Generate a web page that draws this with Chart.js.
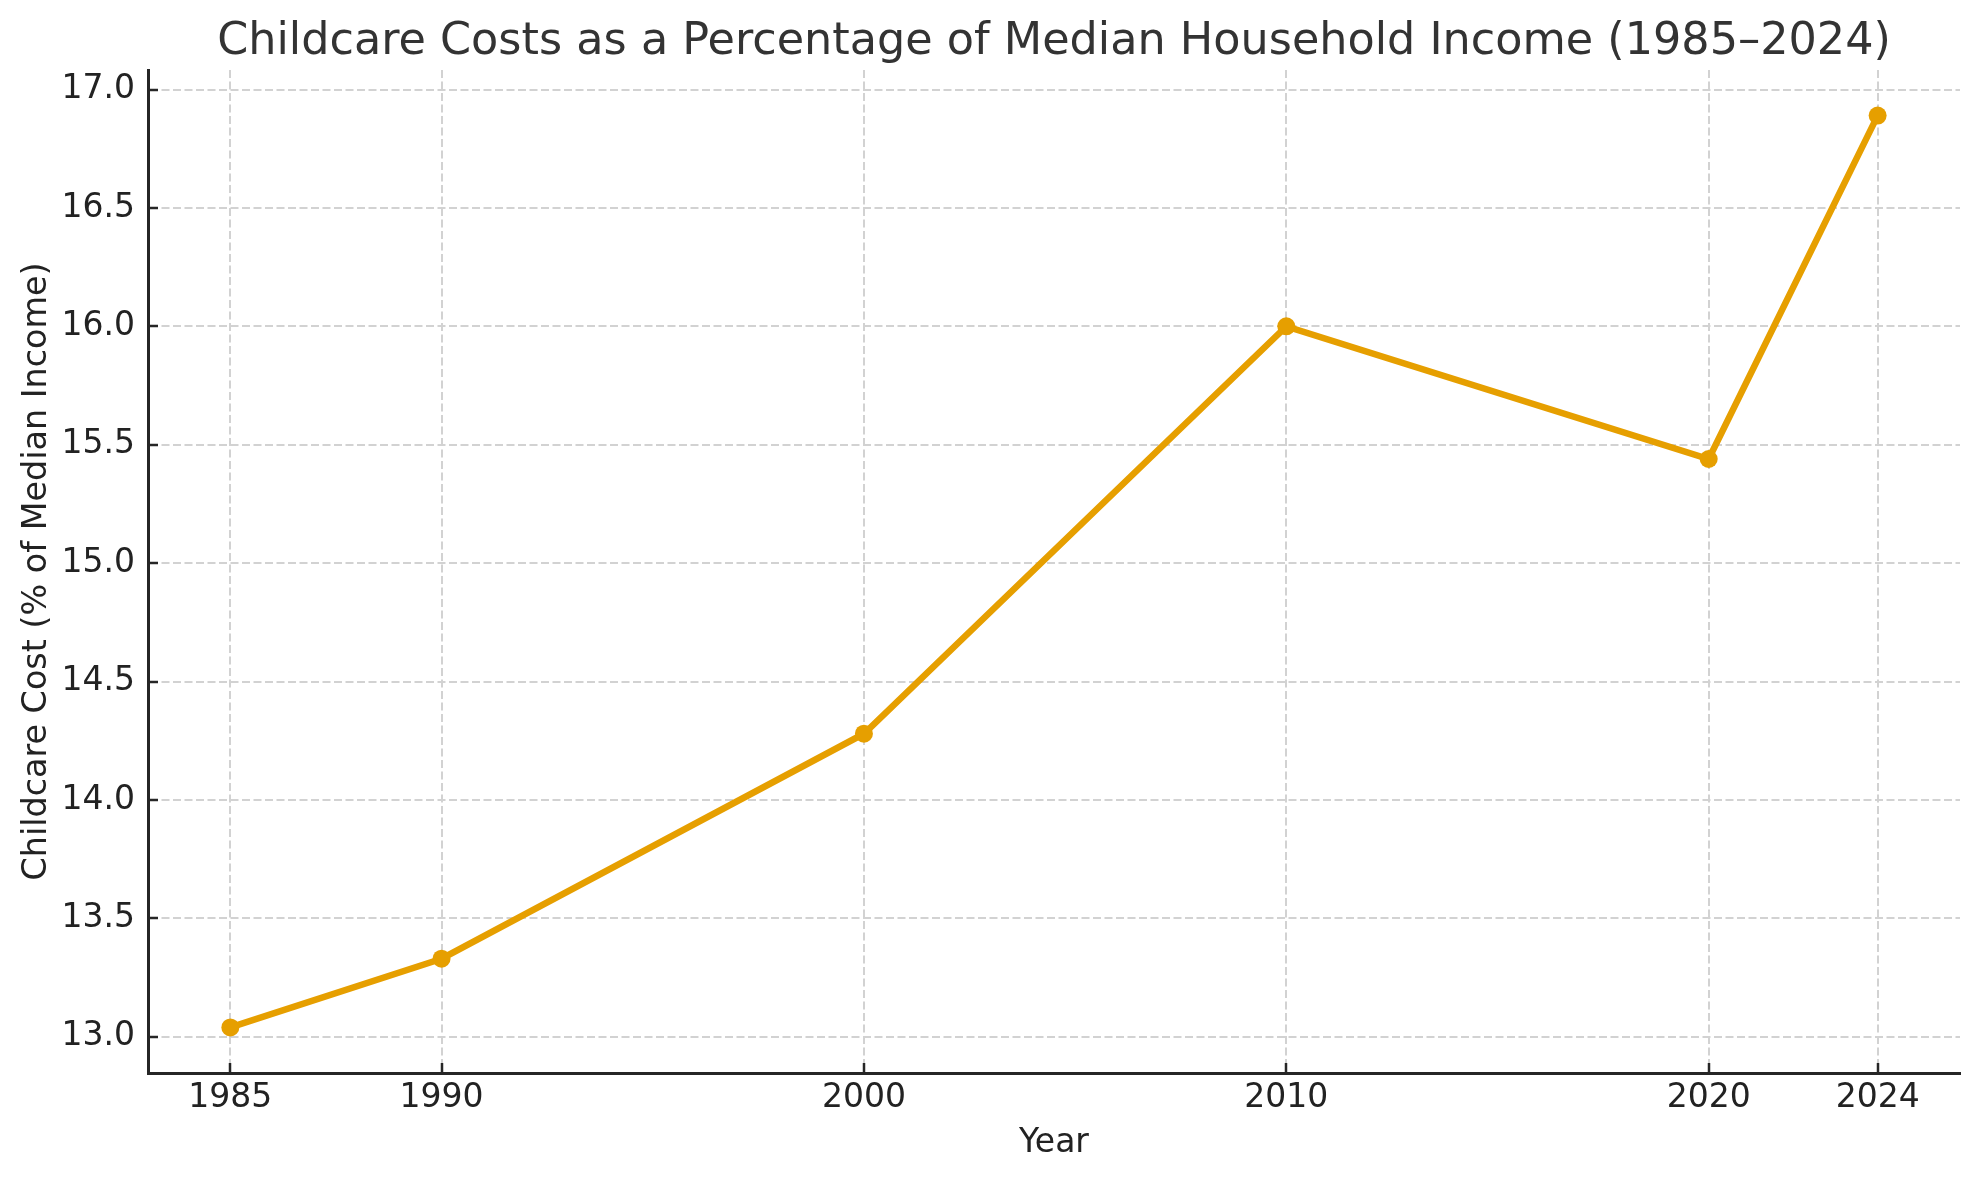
<!DOCTYPE html>
<html>
<head>
<meta charset="utf-8">
<script src="https://cdn.jsdelivr.net/npm/chart.js@4.4.1/dist/chart.umd.min.js"></script>
<style>
  html, body { margin: 0; padding: 0; background: #ffffff; }
  #grafico { display: block; }
</style>
</head>
<body>
<canvas id="grafico" width="1979" height="1180"></canvas>
<script>
// dados
const anos = [1985, 1990, 2000, 2010, 2020, 2024];
const custoPercentual = [13.04, 13.33, 14.28, 16.0, 15.44, 16.89];
const ticksY = [13.0, 13.5, 14.0, 14.5, 15.0, 15.5, 16.0, 16.5, 17.0];

const titulo = "Childcare Costs as a Percentage of Median Household Income (1985–2024)";
const tituloX = "Year";
const tituloY = "Childcare Cost (% of Median Income)";

const laranja = "#E69F00";
const corGrade = "#d2d2d2";
const corEixo = "#262626";
const fonte = "'DejaVu Sans', 'Liberation Sans', sans-serif";

// margens de 5% como no matplotlib
const margemX = (anos[anos.length - 1] - anos[0]) * 0.05;
const minY = Math.min(...custoPercentual);
const maxY = Math.max(...custoPercentual);
const margemY = (maxY - minY) * 0.05;

const pontos = anos.map((ano, i) => ({ x: ano, y: custoPercentual[i] }));

const ctx = document.getElementById("grafico");

new Chart(ctx, {
    type: "line",
    data: {
        datasets: [{
            label: tituloY,
            data: pontos,
            borderColor: laranja,
            backgroundColor: laranja,
            borderWidth: 6.5,
            tension: 0,
            pointRadius: 9,
            pointBorderWidth: 0,
            pointBackgroundColor: laranja,
            fill: false
        }]
    },
    options: {
        responsive: false,
        animation: false,
        devicePixelRatio: 1,
        layout: {
            padding: { top: 0, left: 0, right: 19, bottom: 0 }
        },
        plugins: {
            legend: { display: false },
            tooltip: { enabled: false },
            title: {
                display: true,
                fullSize: false, // centraliza sobre a área do gráfico
                text: titulo,
                color: "#333333",
                font: { family: fonte, size: 44.5, weight: "normal", lineHeight: 1.2 },
                padding: { top: 15.6, bottom: 1 }
            }
        },
        scales: {
            x: {
                type: "linear",
                min: anos[0] - margemX,
                max: anos[anos.length - 1] + margemX,
                afterBuildTicks: (escala) => {
                    escala.ticks = anos.map(v => ({ value: v }));
                },
                afterFit: (escala) => { escala.height = 107; },
                ticks: {
                    color: "#222222",
                    font: { family: fonte, size: 33, lineHeight: 1.2 },
                    padding: 16,
                    maxRotation: 0,
                    autoSkip: false,
                    callback: (v) => String(v)
                },
                grid: {
                    color: corGrade,
                    lineWidth: 2,
                    drawTicks: true,
                    tickLength: -10,
                    tickColor: corEixo,
                    tickWidth: 2.5,
                    tickBorderDash: []
                },
                border: {
                    display: true,
                    color: corEixo,
                    width: 3,
                    dash: [8, 3.5]
                },
                title: {
                    display: true,
                    text: tituloX,
                    color: "#222222",
                    font: { family: fonte, size: 33, lineHeight: 1.2 },
                    padding: { top: 0, bottom: 17 }
                }
            },
            y: {
                type: "linear",
                min: minY - margemY,
                max: maxY + margemY,
                afterBuildTicks: (escala) => {
                    escala.ticks = ticksY.map(v => ({ value: v }));
                },
                afterFit: (escala) => { escala.width = 148; },
                ticks: {
                    color: "#222222",
                    font: { family: fonte, size: 33, lineHeight: 1.2 },
                    padding: 23,
                    callback: (v) => Number(v).toFixed(1)
                },
                grid: {
                    color: corGrade,
                    lineWidth: 2,
                    drawTicks: true,
                    tickLength: -10,
                    tickColor: corEixo,
                    tickWidth: 2.5,
                    tickBorderDash: []
                },
                border: {
                    display: true,
                    color: corEixo,
                    width: 3,
                    dash: [8, 3.5]
                },
                title: {
                    display: true,
                    text: tituloY,
                    color: "#222222",
                    font: { family: fonte, size: 33.4, lineHeight: 1.2 },
                    padding: { top: 17, bottom: 0 }
                }
            }
        }
    }
});
</script>
</body>
</html>
